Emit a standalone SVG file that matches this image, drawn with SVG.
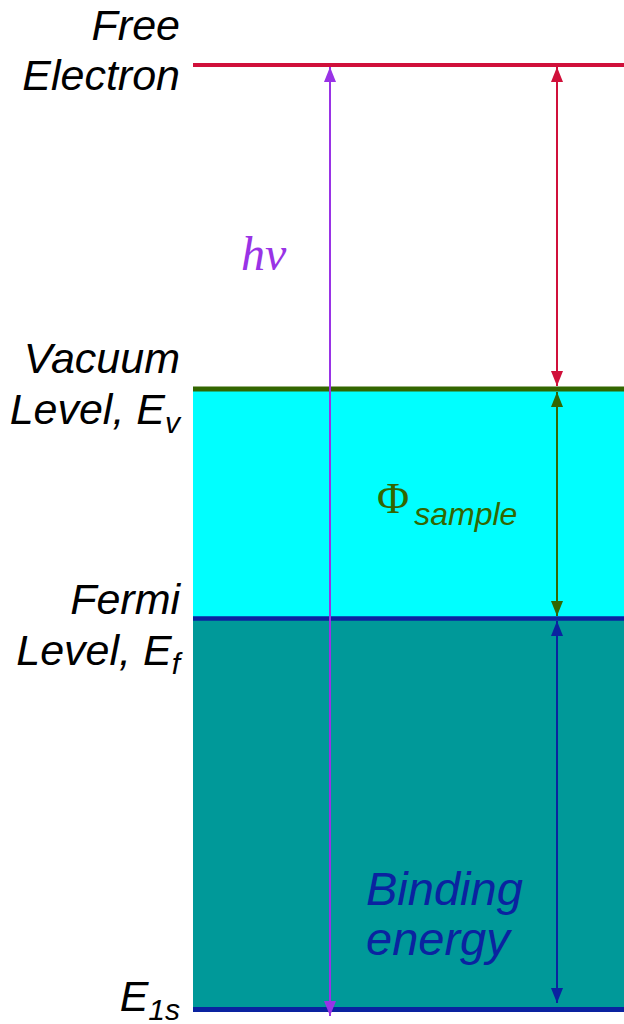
<svg xmlns="http://www.w3.org/2000/svg" width="624" height="1024" viewBox="0 0 624 1024">
<style>
.lbl{font-family:"Liberation Sans",Arial,sans-serif;font-style:italic;font-size:43px;fill:#000;text-anchor:end}
.sub{font-size:30px}
</style>
<defs>
<marker id="hp" viewBox="0 0 15 12" refX="15" refY="6" markerWidth="15" markerHeight="12" markerUnits="userSpaceOnUse" orient="auto-start-reverse"><path d="M0,0 L15,6 L0,12 z" fill="#9933E6"/></marker>
<marker id="hr" viewBox="0 0 15 12" refX="15" refY="6" markerWidth="15" markerHeight="12" markerUnits="userSpaceOnUse" orient="auto-start-reverse"><path d="M0,0 L15,6 L0,12 z" fill="#D0103A"/></marker>
<marker id="hg" viewBox="0 0 15 12" refX="15" refY="6" markerWidth="15" markerHeight="12" markerUnits="userSpaceOnUse" orient="auto-start-reverse"><path d="M0,0 L15,6 L0,12 z" fill="#336600"/></marker>
<marker id="hb" viewBox="0 0 15 12" refX="15" refY="6" markerWidth="15" markerHeight="12" markerUnits="userSpaceOnUse" orient="auto-start-reverse"><path d="M0,0 L15,6 L0,12 z" fill="#0A23A0"/></marker>
</defs>
<rect width="624" height="1024" fill="#fff"/>
<g id="bands">
<rect x="193" y="390" width="431" height="228" fill="#00FFFF"/>
<rect x="193" y="618" width="431" height="391" fill="#009999"/>
</g>
<g id="levels">
<line x1="193" y1="65" x2="624" y2="65" stroke="#D0103A" stroke-width="4"/>
<line x1="193" y1="389" x2="624" y2="389" stroke="#336600" stroke-width="5"/>
<line x1="193" y1="618.5" x2="624" y2="618.5" stroke="#0A23A0" stroke-width="4.5"/>
<line x1="193" y1="1009.5" x2="624" y2="1009.5" stroke="#0A23A0" stroke-width="5"/>
</g>
<g id="connectors" stroke-width="2" fill="none">
<line x1="330" y1="67" x2="330" y2="1016" stroke="#9933E6" marker-start="url(#hp)" marker-end="url(#hp)"/>
<line x1="557" y1="67" x2="557" y2="386" stroke="#D0103A" marker-start="url(#hr)" marker-end="url(#hr)"/>
<line x1="557" y1="392" x2="557" y2="616" stroke="#336600" marker-start="url(#hg)" marker-end="url(#hg)"/>
<line x1="557" y1="621" x2="557" y2="1003" stroke="#0A23A0" marker-start="url(#hb)" marker-end="url(#hb)"/>
</g>
<g id="label-free">
<text class="lbl" x="180" y="40">Free</text>
<text class="lbl" x="180" y="90">Electron</text>
</g>
<g id="label-vacuum">
<text class="lbl" x="180" y="373">Vacuum</text>
<text class="lbl" x="180" y="424">Level, E<tspan class="sub" dy="9">v</tspan></text>
</g>
<g id="label-fermi">
<text class="lbl" x="180" y="614">Fermi</text>
<text class="lbl" x="180" y="665">Level, E<tspan class="sub" dy="9">f</tspan></text>
</g>
<g id="label-e1s">
<text class="lbl" x="180" y="1011">E<tspan class="sub" dy="9">1s</tspan></text>
</g>
<g id="label-hv">
<text x="241" y="270" font-family="Liberation Serif,serif" font-style="italic" font-size="48" fill="#9933E6">hv</text>
</g>
<g id="label-phi">
<text x="377" y="513" font-family="Liberation Serif,serif" font-size="44" fill="#336600">Φ<tspan font-family="Liberation Sans,sans-serif" font-style="italic" font-size="32" dx="5" dy="12">sample</tspan></text>
</g>
<g id="label-binding">
<text x="366" y="905" font-family="Liberation Sans,sans-serif" font-style="italic" font-size="47" fill="#0A23A0">Binding</text>
<text x="366" y="955" font-family="Liberation Sans,sans-serif" font-style="italic" font-size="47" fill="#0A23A0">energy</text>
</g>
</svg>
